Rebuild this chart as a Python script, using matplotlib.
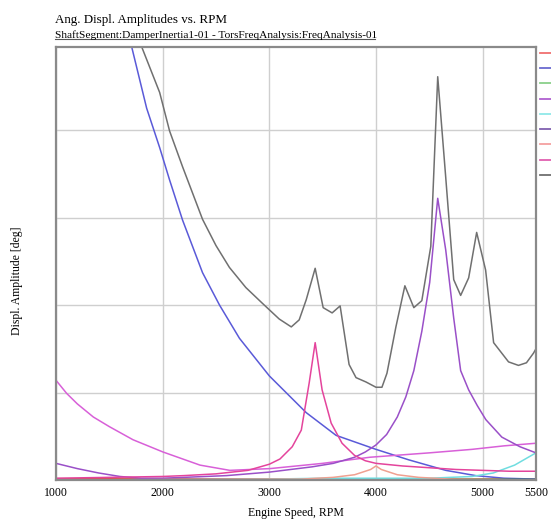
import matplotlib
matplotlib.use("Agg")
import matplotlib.pyplot as plt
from matplotlib.lines import Line2D

plt.rcParams['font.family'] = ['Liberation Serif', 'DejaVu Serif']

# series (rpm, amplitude in grid units)
red_rpm = [1000, 2000, 3000, 4000, 5000, 5500]
red_val = [0.015, 0.015, 0.012, 0.01, 0.01, 0.01]

blue_rpm = [1000, 1250, 1500, 1650, 1710, 1850, 1972, 2065, 2187, 2374, 2533, 2720,
            3000, 3346, 3626, 4000, 4308, 4654, 4935, 5200, 5500]
blue_val = [12.0, 8.6, 6.3, 5.3, 4.95, 4.25, 3.8, 3.43, 2.97, 2.37, 2.0, 1.62,
            1.19, 0.77, 0.51, 0.35, 0.23, 0.11, 0.05, 0.02, 0.01]

green_rpm = [1000, 3300, 4000, 4500, 5000, 5500]
green_val = [0.0, 0.005, 0.008, 0.01, 0.008, 0.006]

magenta_rpm = [1000, 1100, 1200, 1350, 1500, 1722, 2003, 2350, 2630, 3006, 3500,
               3944, 4500, 4900, 5200, 5500]
magenta_val = [1.14, 0.99, 0.87, 0.72, 0.61, 0.46, 0.32, 0.17, 0.11, 0.13, 0.19,
               0.26, 0.31, 0.35, 0.39, 0.42]

cyan_rpm = [1000, 3000, 3500, 4000, 4500, 4900, 5100, 5300, 5500]
cyan_val = [0.0, 0.01, 0.02, 0.02, 0.02, 0.04, 0.08, 0.17, 0.31]

purple_rpm = [1000, 1200, 1400, 1600, 1800, 2000, 2200, 2400, 2600, 2800, 3000,
              3200, 3400, 3600, 3800, 3900, 4000, 4100, 4200, 4280, 4355, 4430,
              4504, 4579, 4654, 4729, 4794, 4869, 4950, 5030, 5180, 5350, 5500]
purple_val = [0.19, 0.13, 0.08, 0.04, 0.02, 0.02, 0.03, 0.04, 0.05, 0.07, 0.09,
              0.12, 0.15, 0.19, 0.26, 0.32, 0.40, 0.52, 0.72, 0.95, 1.25, 1.70,
              2.26, 3.22, 2.63, 1.85, 1.25, 1.03, 0.85, 0.69, 0.49, 0.38, 0.31]

salmon_rpm = [1000, 3300, 3600, 3800, 3950, 4000, 4050, 4200, 4400, 4700, 5500]
salmon_val = [0.0, 0.01, 0.03, 0.06, 0.12, 0.16, 0.12, 0.06, 0.03, 0.01, 0.0]

pink_rpm = [1000, 1500, 2000, 2200, 2500, 2800, 3000, 3100, 3215, 3300, 3374,
            3430, 3495, 3580, 3682, 3800, 3900, 4000, 4250, 4500, 4750, 5000,
            5250, 5500]
pink_val = [0.02, 0.03, 0.04, 0.05, 0.07, 0.11, 0.18, 0.24, 0.38, 0.57, 1.11,
            1.57, 1.03, 0.65, 0.42, 0.28, 0.22, 0.19, 0.16, 0.14, 0.12, 0.11,
            0.10, 0.10]

gray_rpm = [1000, 1700, 1804, 1972, 2065, 2187, 2374, 2500, 2626, 2780, 2935, 3093,
            3206, 3280, 3346, 3430, 3505, 3589, 3664, 3748, 3813, 3907, 4000, 4056,
            4103, 4187, 4271, 4355, 4430, 4514, 4579, 4654, 4729, 4794, 4869,
            4944, 5028, 5103, 5243, 5336, 5411, 5477, 5500]
gray_val = [9.0, 5.3, 4.95, 4.43, 3.99, 3.58, 2.98, 2.68, 2.43, 2.2, 2.02, 1.84,
            1.75, 1.83, 2.06, 2.42, 1.97, 1.91, 1.99, 1.32, 1.17, 1.12, 1.06, 1.06,
            1.22, 1.75, 2.22, 1.97, 2.05, 2.67, 4.61, 3.46, 2.29, 2.11, 2.31,
            2.83, 2.40, 1.57, 1.35, 1.31, 1.34, 1.45, 1.50]

series = [
    (red_rpm, red_val, '#e05050'),
    (blue_rpm, blue_val, '#5a5ad8'),
    (green_rpm, green_val, '#2e8b2e'),
    (magenta_rpm, magenta_val, '#d860d8'),
    (cyan_rpm, cyan_val, '#70dde0'),
    (purple_rpm, purple_val, '#9a50c8'),
    (salmon_rpm, salmon_val, '#f0a090'),
    (pink_rpm, pink_val, '#e4449c'),
    (gray_rpm, gray_val, '#707070'),
]
legend_colors = ['#f07070', '#6a6ad0', '#8ad08a', '#b060d0', '#90e8e8',
                 '#8060b0', '#f4a0a0', '#e060b0', '#707070']

fig = plt.figure(figsize=(5.51, 5.22), dpi=100)
ax = fig.add_axes([0.1016, 0.0805, 0.8711, 0.8295])

for x, y, c in series:
    ax.plot(x, y, color=c, lw=1.1)

ax.set_xlim(1000, 5500)
ax.set_ylim(0, 4.95)
ax.set_xticks([1000, 2000, 3000, 4000, 5000, 5500])
ax.set_xticklabels(['1000', '2000', '3000', '4000', '5000', '5500'], fontsize=8.5)
ax.set_yticks([1, 2, 3, 4])
ax.set_yticklabels([])
ax.tick_params(length=0, pad=5)
ax.grid(True, color='#cfcfcf', lw=1.0)
for s in ax.spines.values():
    s.set_color('#8a8a8a')
    s.set_linewidth(1.6)

ax.set_xlabel('Engine Speed, RPM', fontsize=8.5, labelpad=6)
ax.set_ylabel('Displ. Amplitude [deg]', fontsize=8.5)
ax.yaxis.set_label_coords(-0.068, 0.46)

fig.text(0.1, 0.955, 'Ang. Displ. Amplitudes vs. RPM', fontsize=9.4)
fig.text(0.1, 0.928, 'ShaftSegment:DamperInertia1-01 - TorsFreqAnalysis:FreqAnalysis-01',
         fontsize=8.2)
fig.add_artist(Line2D([0.1, 0.68], [0.925, 0.925], color='#555555', lw=0.8))

handles = [Line2D([], [], color=c, lw=1.3) for c in legend_colors]
ax.legend(handles, [''] * len(handles), loc='upper left',
          bbox_to_anchor=(1.008, 0.995), frameon=False, fontsize=8,
          handlelength=1.6, labelspacing=0.49, borderaxespad=0, borderpad=0)

plt.savefig('out.png', dpi=100)
